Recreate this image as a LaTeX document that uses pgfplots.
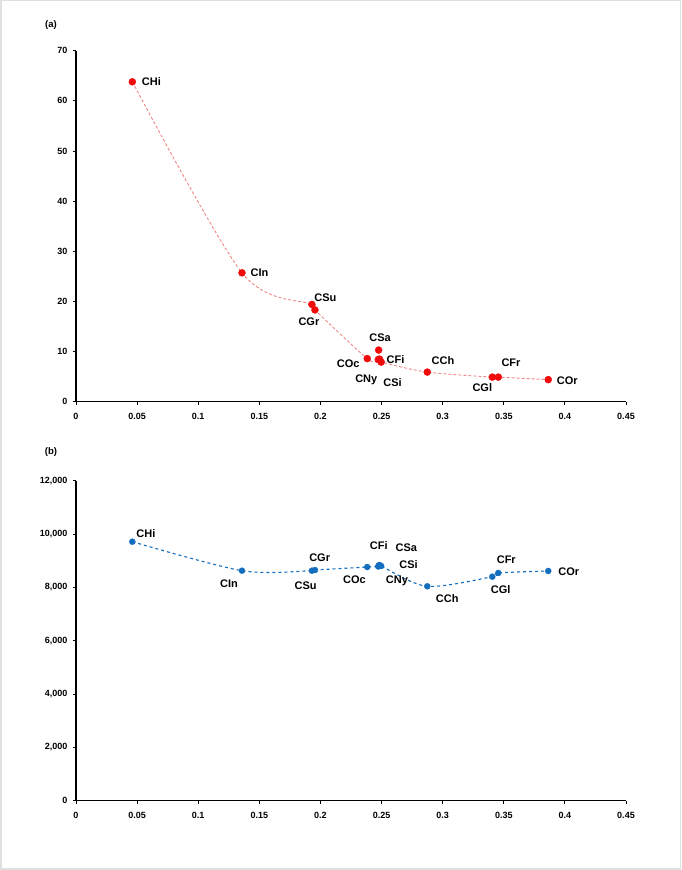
\documentclass[border=0pt]{standalone}
\usepackage{fontspec}
\setmainfont{Liberation Sans}
\usepackage{pgfplots}
\usepackage{pgfplotstable}
\pgfplotsset{compat=1.18}

\definecolor{ptred}{RGB}{240,10,10}
\definecolor{linered}{RGB}{240,135,135}
\definecolor{ptblue}{RGB}{20,110,190}

% x, y, label, label offset (pt)
\pgfplotstableread{
x      y     lab  dx    dy
0.0461 63.8  CHi  19    0
0.1358 25.7  CIn  17.5  0
0.1930 19.4  CSu  13.5  7
0.1955 18.3  CGr  -6    -12
0.2383 8.6   COc  -19   -5
0.2473 8.4   CNy  -12   -20
0.2476 10.3  CSa  1.5   12.3
0.2483 8.5   CFi  16    0
0.2497 7.9   CSi  11.4  -20
0.2874 5.9   CCh  15.7  11.7
0.3406 4.9   CGl  -10   -10.7
0.3455 4.9   CFr  12.7  14.6
0.3864 4.4   COr  19    -1
}\tblA

\pgfplotstableread{
x      y     lab  dx    dy
0.0461 9712  CHi  13.6  7.7
0.1358 8625  CIn  -13   -12.6
0.1930 8625  CSu  -6.2  -14.6
0.1955 8650  CGr  4.7   12.3
0.2383 8763  COc  -12.8 -13
0.2473 8782  CNy  18.7  -14.5
0.2476 8812  CSa  27.7  17.7
0.2483 8839  CFi  -0.7  19
0.2497 8800  CSi  27.4  1.3
0.2874 8040  CCh  20    -12
0.3406 8400  CGl  8.4   -13.3
0.3455 8539  CFr  8     13.7
0.3864 8614  COr  20.5  -1
}\tblB

\pgfplotsset{
  myax/.style={
    scale only axis, width=550pt, anchor=south west,
    xmin=0, xmax=0.45,
    xtick={0,0.05,0.1,0.15,0.2,0.25,0.3,0.35,0.4,0.45},
    axis x line*=bottom, axis y line*=left,
    axis line style={line width=1.3pt, black},
    tick align=outside, major tick length=3pt,
    tick style={line width=0.8pt, black},
    ticklabel style={font=\fontsize{9}{10}\selectfont\bfseries},
    /pgf/number format/assume math mode=true,
    x tick label style={yshift=-5pt, /pgf/number format/.cd, fixed, precision=2},
    y tick label style={xshift=-2pt, /pgf/number format/.cd, 1000 sep={,}},
    scaled ticks=false, clip=false,
  },
  lbl/.style={
    point meta=explicit symbolic,
    visualization depends on={\thisrow{dx}\as\labdx},
    visualization depends on={\thisrow{dy}\as\labdy},
    nodes near coords,
    every node near coord/.style={anchor=center, xshift=\labdx pt, yshift=\labdy pt,
      font=\fontsize{11}{13}\selectfont\bfseries, text=black, inner sep=0pt},
  },
}

\begin{document}
\begin{tikzpicture}
\useasboundingbox (0,0) rectangle (681pt,870pt);
\draw[black!12, line width=1.5pt] (0.75pt,0.75pt) rectangle (680.25pt,869.25pt);
\node at (51pt,845pt) {\fontsize{9.5}{11}\selectfont\bfseries (a)};
\node at (51pt,418.3pt) {\fontsize{9.5}{11}\selectfont\bfseries (b)};

\begin{axis}[myax, at={(76pt,468.3pt)}, height=351pt,
  ymin=0, ymax=70, ytick={0,10,...,70}]
\addplot[linered, densely dashed, line width=0.9pt, smooth, no markers,
  skip coords between index={6}{7}] table[x=x, y=y] {\tblA};
\addplot[only marks, mark=*, mark size=3.5pt, ptred, lbl]
  table[x=x, y=y, meta=lab] {\tblA};
\end{axis}

\begin{axis}[myax, at={(76pt,69.3pt)}, height=320pt,
  ymin=0, ymax=12000, ytick={0,2000,...,12000}]
\addplot[ptblue, dashed, line width=1.1pt, smooth, no markers]
  table[x=x, y=y] {\tblB};
\addplot[only marks, mark=*, mark size=3pt, ptblue, lbl]
  table[x=x, y=y, meta=lab] {\tblB};
\end{axis}
\end{tikzpicture}
\end{document}
